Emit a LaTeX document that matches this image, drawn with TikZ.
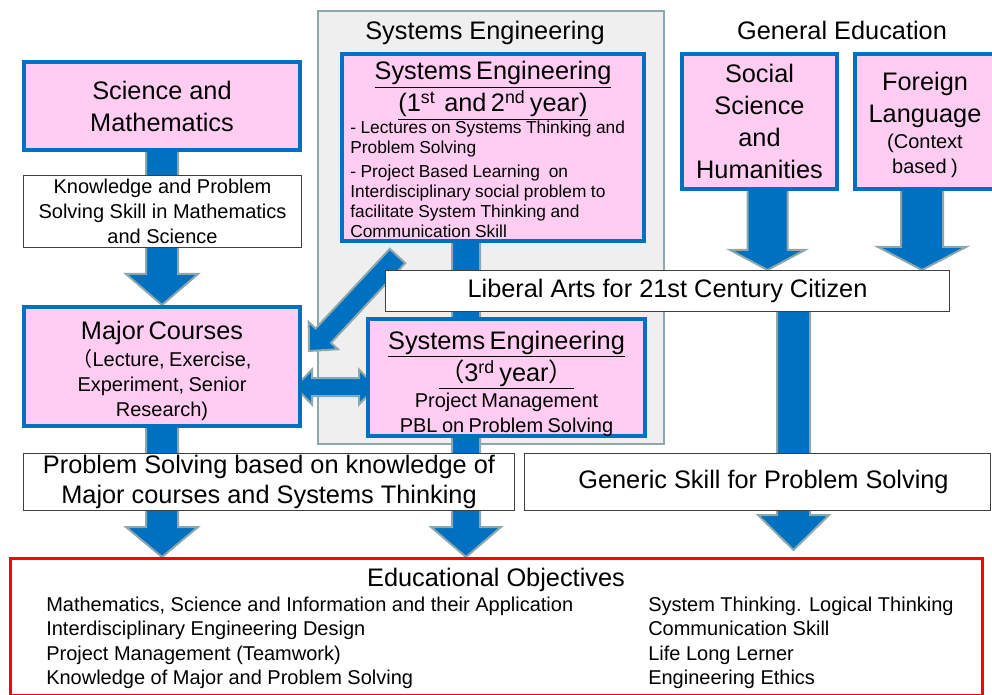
\documentclass[tikz,border=0pt]{standalone}
\usepackage{fontspec}
\setmainfont{Liberation Sans}
\newfontfamily\cjk{Noto Sans CJK JP}
\usetikzlibrary{calc}
\setlength\parindent{0pt}
\definecolor{boxpink}{RGB}{255,204,242}
\definecolor{boxblue}{RGB}{0,112,192}
\definecolor{rimgray}{RGB}{140,168,172}
\definecolor{panelgray}{RGB}{239,239,239}
\definecolor{linegray}{RGB}{64,64,64}
\newcommand\bigsz{\fontsize{19}{24}\selectfont}
\newcommand\midsz{\fontsize{15}{18.5}\selectfont}
\newcommand\smallsz{\fontsize{13}{15}\selectfont}
\pgfdeclarelayer{back}
\pgfsetlayers{back,main}

\begin{document}
\begin{tikzpicture}[x=0.75pt, y=-0.75pt,
    every node/.style={inner sep=0pt, align=center},
    wh/.style 2 args={minimum width=#1*0.75pt, minimum height=#2*0.75pt},
    pinkbox/.style={draw=boxblue, fill=boxpink, line width=3pt},
    whitebox/.style={draw=linegray, fill=white, line width=0.8pt},
    item/.style={anchor=west, font=\midsz, text height=1.5ex, text depth=.25ex},
    arrowfill/.style={fill=boxblue, draw=rimgray, line width=1.5pt, line join=miter},
    fat/.style n args={3}{arrowfill, to path={
      ($(\tikztostart)!#1*0.75pt!90:(\tikztotarget)$)
      -- ($($(\tikztotarget)!#3*0.75pt!(\tikztostart)$)!#1*0.75pt!90:(\tikztotarget)$)
      -- ($($(\tikztotarget)!#3*0.75pt!(\tikztostart)$)!#2*0.75pt!90:(\tikztotarget)$)
      -- (\tikztotarget)
      -- ($($(\tikztotarget)!#3*0.75pt!(\tikztostart)$)!#2*0.75pt!-90:(\tikztotarget)$)
      -- ($($(\tikztotarget)!#3*0.75pt!(\tikztostart)$)!#1*0.75pt!-90:(\tikztotarget)$)
      -- ($(\tikztostart)!#1*0.75pt!-90:(\tikztotarget)$) -- cycle}},
    fatboth/.style n args={3}{arrowfill, to path={
      (\tikztostart)
      -- ($($(\tikztostart)!#3*0.75pt!(\tikztotarget)$)!#2*0.75pt!90:(\tikztotarget)$)
      -- ($($(\tikztostart)!#3*0.75pt!(\tikztotarget)$)!#1*0.75pt!90:(\tikztotarget)$)
      -- ($($(\tikztotarget)!#3*0.75pt!(\tikztostart)$)!#1*0.75pt!90:(\tikztotarget)$)
      -- ($($(\tikztotarget)!#3*0.75pt!(\tikztostart)$)!#2*0.75pt!90:(\tikztotarget)$)
      -- (\tikztotarget)
      -- ($($(\tikztotarget)!#3*0.75pt!(\tikztostart)$)!#2*0.75pt!-90:(\tikztotarget)$)
      -- ($($(\tikztotarget)!#3*0.75pt!(\tikztostart)$)!#1*0.75pt!-90:(\tikztotarget)$)
      -- ($($(\tikztostart)!#3*0.75pt!(\tikztotarget)$)!#1*0.75pt!-90:(\tikztotarget)$)
      -- ($($(\tikztostart)!#3*0.75pt!(\tikztotarget)$)!#2*0.75pt!-90:(\tikztotarget)$)
      -- cycle}}]
  \useasboundingbox (0,0) rectangle (992,695);

  % titles
  \node[font=\bigsz] (setitle) at (485,33) {Systems Engineering};
  \node[font=\bigsz] (getitle) at (842,30) {General Education};

  % left column
  \node[pinkbox, wh={276}{88}, font=\bigsz] (sci) at (162,106) {Science and\\Mathematics};
  \node[whitebox, wh={278}{72}, font=\midsz] (know) at (162.5,211.5)
    {Knowledge and Problem\\Solving Skill in Mathematics\\and Science};
  \node[pinkbox, wh={276}{119}, text width=200pt] (major) at (162,366.5)
    {{\bigsz\rule{0pt}{20pt}Major Courses\par}\vspace{2pt}\midsz{\cjk （}Lecture, Exercise,\\Experiment, Senior\\Research)\par};

  % systems engineering
  \node[pinkbox, wh={302}{187}, text width=214pt, align=left] (se1) at (493,147.5)
    {{\bigsz\centering\rule{0pt}{17pt}\underline{Systems Engineering}\\
      \underline{(1\textsuperscript{st}~ and 2\textsuperscript{nd} year)}\par}
     \smallsz - Lectures on Systems Thinking and\\Problem Solving\par\vspace{3pt}
     - Project Based Learning~ on\\Interdisciplinary social problem to\\
     facilitate System Thinking and\\Communication Skill\par};
  \node[whitebox, wh={564}{41}, font=\bigsz] (lib) at (667.5,291)
    {Liberal Arts for 21st Century Citizen};
  \node[pinkbox, wh={277}{111}, text width=205pt] (se3) at (506.5,377.5)
    {{\bigsz\rule{0pt}{23pt}\underline{Systems Engineering}\\
      \underline{{\cjk （}3\textsuperscript{rd} year{\cjk ）}}\par}\vspace{1pt}
     \midsz Project Management\\PBL on Problem Solving\par};

  % general education
  \node[pinkbox, wh={155}{135}, font=\bigsz] (soc) at (759.5,121.5)
    {Social\\Science\\and\\Humanities};
  \node[pinkbox, wh={140}{135}, text width=100pt] (frn) at (925,121.5)
    {{\bigsz\rule{0pt}{19pt}Foreign\\Language\par}\vspace{1pt}\midsz(Context\\based )\par};

  % outcomes
  \node[whitebox, wh={491}{57}, font=\fontsize{19}{22.5}\selectfont] (prob) at (269,482)
    {Problem Solving based on knowledge of\\Major courses and Systems Thinking};
  \node[whitebox, wh={466}{57}, font=\bigsz] (gen) at (757.5,482)
    {\hspace{9pt}Generic Skill for Problem Solving};
  \node[draw=red, line width=2.25pt, wh={972}{137}] (edu) at (496.5,627) {};
  \node[font=\bigsz] (edutitle) at (496,580) {Educational Objectives};
  \foreach \txt [count=\i] in {{Mathematics, Science and Information and their Application},
      Interdisciplinary Engineering Design, Project Management (Teamwork),
      Knowledge of Major and Problem Solving}
    \node[item] (objl\i) at (46,582.5+24.5*\i) {\txt};
  \foreach \txt [count=\i] in {System Thinking. Logical Thinking, Communication Skill,
      Life Long Lerner, Engineering Ethics}
    \node[item] (objr\i) at (648,582.5+24.5*\i) {\txt};

  \coordinate (secol) at ($(se1.south)+(-27,-20)$);
  \coordinate (gencol) at ($(lib.center)+(126,0)$);
  \coordinate (diagtail) at ($(se1.south west)+(57.5,13)$);
  \coordinate (diagtip) at ($(major.east)+(7,-15.5)$);
  \coordinate (dbll) at ($(major.east)+(-7,20.5)$);
  \coordinate (dblr) at ($(se3.west)+(10,9.5)$);

  \begin{pgfonlayer}{back}
    \draw[fill=panelgray, draw=rimgray, line width=1.5pt] (318,11) rectangle (664,444);
    \path[fat={16}{36}{31}] (sci.center) to (major.north);
    \path[fat={16}{36}{30}] (major.center) to (major.center |- edu.north);
    \path[fat={14}{35}{30}] (secol) to (secol |- edu.north);
    \path[fat={20}{37.5}{20}] ($(soc.center)+(8,0)$) to ($(soc.center |- lib.north)+(8,0)$);
    \path[fat={21}{44}{23}] ($(frn.center)+(-3,0)$) to ($(frn.center |- lib.north)+(-3,0)$);
    \path[fat={16.5}{35.5}{35}] (gencol) to ($(gencol |- edu.north)+(0,-7)$);
    \path[fat={10.5}{20}{21}] (diagtail) to (diagtip);
    \path[fatboth={9}{17.5}{17}] (dbll) to (dblr);
  \end{pgfonlayer}
\end{tikzpicture}
\end{document}
